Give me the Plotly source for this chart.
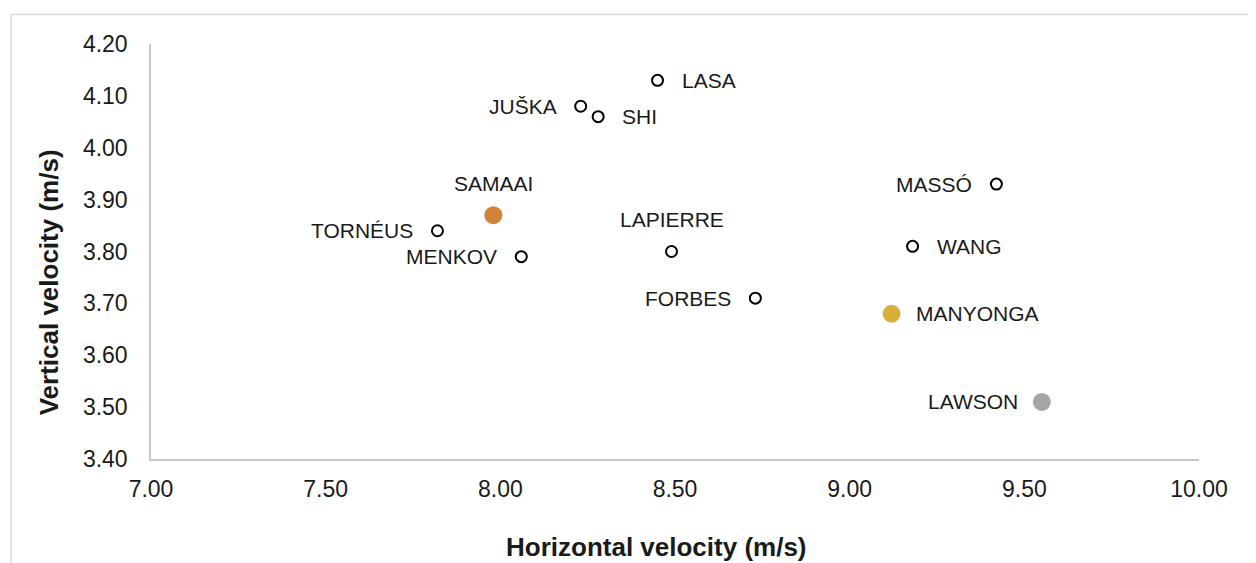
import plotly.graph_objects as go

# athletes and take-off velocities (m/s)
names = ["LASA", "JUŠKA", "SHI", "MASSÓ", "TORNÉUS", "SAMAAI", "MENKOV",
         "LAPIERRE", "WANG", "FORBES", "MANYONGA", "LAWSON"]
horizontal = [8.45, 8.23, 8.28, 9.42, 7.82, 7.98, 8.06, 8.49, 9.18, 8.73, 9.12, 9.55]
vertical = [4.13, 4.08, 4.06, 3.93, 3.84, 3.87, 3.79, 3.80, 3.81, 3.71, 3.68, 3.51]

# highlighted athletes (medallists)
highlight = {"SAMAAI": "#D4823A", "MANYONGA": "#D6B038", "LAWSON": "#A6A6A6"}

# where each label sits relative to its point
label_side = {"LASA": "right", "JUŠKA": "left", "SHI": "right", "MASSÓ": "left",
              "TORNÉUS": "left", "SAMAAI": "above", "MENKOV": "left",
              "LAPIERRE": "above", "WANG": "right", "FORBES": "left",
              "MANYONGA": "right", "LAWSON": "left"}

FONT = "Liberation Sans, Arial, sans-serif"

fig = go.Figure()

plain = [i for i, n in enumerate(names) if n not in highlight]
fig.add_trace(go.Scatter(
    x=[horizontal[i] for i in plain],
    y=[vertical[i] for i in plain],
    mode="markers",
    marker=dict(size=11, color="white", line=dict(color="black", width=2)),
    hoverinfo="skip",
))

for n, c in highlight.items():
    i = names.index(n)
    fig.add_trace(go.Scatter(
        x=[horizontal[i]], y=[vertical[i]], mode="markers",
        marker=dict(size=18, color=c, line=dict(width=0)),
        hoverinfo="skip",
    ))

# data labels
for n, x, y in zip(names, horizontal, vertical):
    side = label_side[n]
    a = dict(x=x, y=y, text=n, showarrow=False,
             font=dict(family=FONT, size=21, color="#1a1a1a"))
    if side == "right":
        a.update(xanchor="left", xshift=22)
    elif side == "left":
        a.update(xanchor="right", xshift=-22)
    else:
        a.update(xanchor="center", yanchor="middle", yshift=32)
    fig.add_annotation(**a)

# axis titles (Excel places them off-centre)
fig.add_annotation(x=0.482, y=-0.212, xref="paper", yref="paper",
                   xanchor="center", yanchor="middle",
                   text="<b>Horizontal velocity (m/s)</b>", showarrow=False,
                   font=dict(family=FONT, size=26, color="#1a1a1a"))
fig.add_annotation(x=-0.097, y=0.4265, xref="paper", yref="paper",
                   xanchor="center", yanchor="middle",
                   text="<b>Vertical velocity (m/s)</b>", showarrow=False, textangle=-90,
                   font=dict(family=FONT, size=26, color="#1a1a1a"))

# outer chart border (top and left only visible)
fig.add_shape(type="line", xref="paper", yref="paper", x0=-0.1336, x1=1.2, y0=1.071, y1=1.071,
              line=dict(color="#D9D9D9", width=1.5))
fig.add_shape(type="line", xref="paper", yref="paper", x0=-0.1336, x1=-0.1336, y0=1.071, y1=-0.5,
              line=dict(color="#D9D9D9", width=1.5))

fig.update_layout(
    width=1256, height=563,
    margin=dict(l=143, r=65, t=36, b=112),
    paper_bgcolor="white", plot_bgcolor="white",
    showlegend=False,
    font=dict(family=FONT, size=21, color="#1a1a1a"),
)
fig.update_xaxes(range=[7, 10], dtick=0.5, tickformat=".2f", showgrid=False, zeroline=False,
                 showline=True, linecolor="#C8C8C8", linewidth=1.5, ticks="",
                 ticklabelstandoff=9, tickfont=dict(size=23))
fig.update_yaxes(range=[3.4, 4.2], dtick=0.1, tickformat=".2f", showgrid=False, zeroline=False,
                 showline=True, linecolor="#C8C8C8", linewidth=1.5, ticks="",
                 ticklabelstandoff=17, tickfont=dict(size=23))

fig.write_html("out.html")
